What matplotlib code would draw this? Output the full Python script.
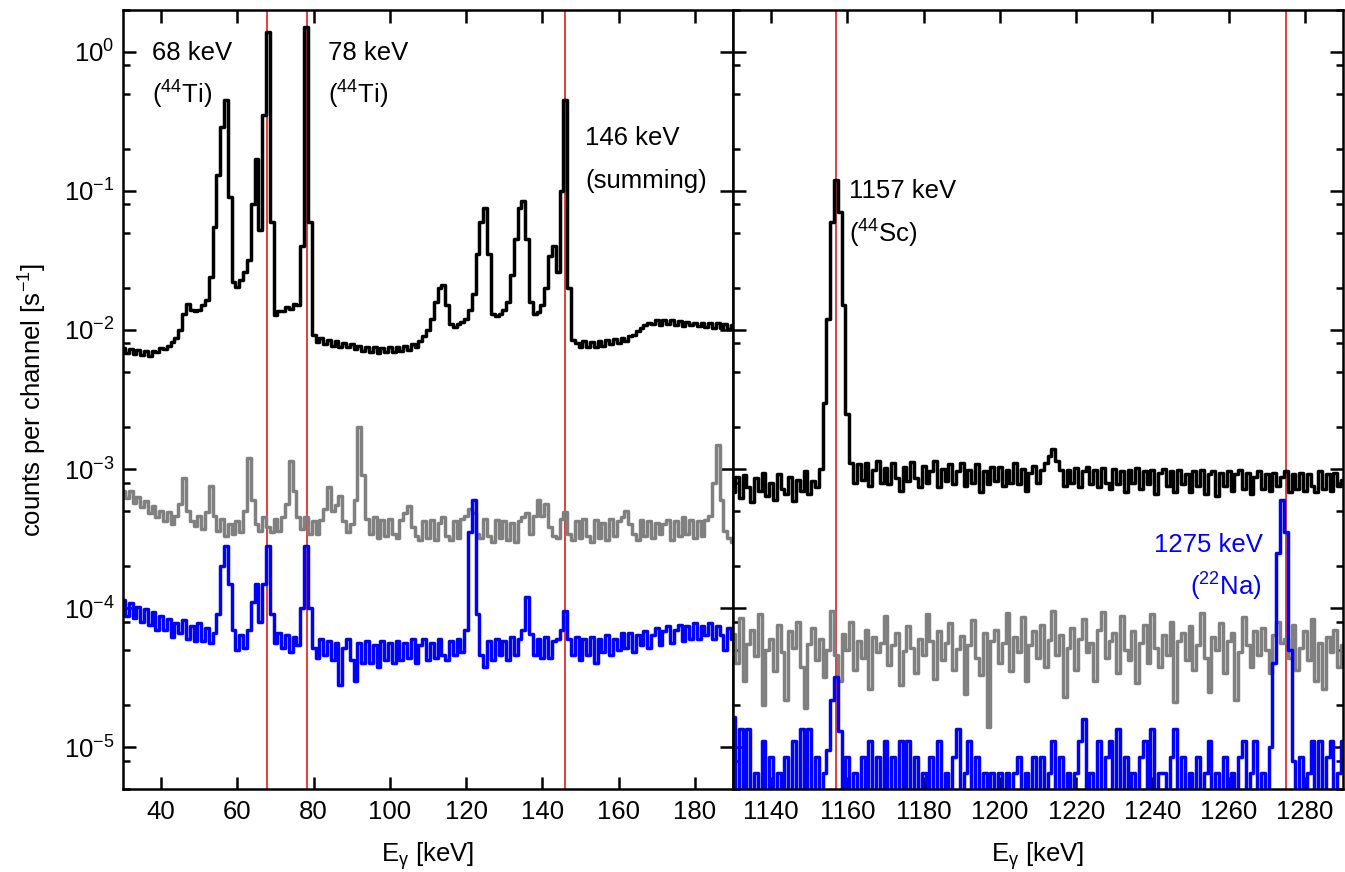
import numpy as np
import matplotlib
matplotlib.use("Agg")
import matplotlib.pyplot as plt
from matplotlib.ticker import LogLocator, MultipleLocator, NullFormatter, NullLocator

plt.rcParams['font.family'] = ['Liberation Sans', 'DejaVu Sans']
plt.rcParams['mathtext.fontset'] = 'custom'
plt.rcParams['mathtext.rm'] = 'Liberation Sans'
plt.rcParams['mathtext.it'] = 'Liberation Sans:italic'
plt.rcParams['mathtext.bf'] = 'Liberation Sans:bold'

# ---------------- data (1 keV channels) ----------------
energy_low = np.arange(30, 191)      # keV
energy_high = np.arange(1130, 1291)  # keV

# counts per channel [1/s], black spectrum, low-energy window
black_low = [
    0.0074, 0.0068, 0.0073, 0.0067, 0.0072, 0.0066, 0.0071, 0.0065, 0.0071, 0.0070,
    0.0074, 0.0073, 0.0077, 0.0082, 0.0088, 0.0100, 0.0130, 0.0155, 0.0140, 0.0138,
    0.0140, 0.0150, 0.0165, 0.0240, 0.0550, 0.1300, 0.2900, 0.4500, 0.0900, 0.0220,
    0.0205, 0.0230, 0.0260, 0.0320, 0.0800, 0.1700, 0.0520, 0.3500, 1.4000, 0.0600,
    0.0128, 0.0138, 0.0136, 0.0146, 0.0142, 0.0154, 0.0150, 0.0400, 1.5000, 0.0600,
    0.0092, 0.0082, 0.0087, 0.0079, 0.0085, 0.0077, 0.0083, 0.0076, 0.0081, 0.0075,
    0.0079, 0.0073, 0.0077, 0.0071, 0.0076, 0.0069, 0.0075, 0.0068, 0.0074, 0.0069,
    0.0075, 0.0070, 0.0076, 0.0071, 0.0077, 0.0072, 0.0079, 0.0076, 0.0083, 0.0090,
    0.0100, 0.0120, 0.0160, 0.0200, 0.0210, 0.0150, 0.0110, 0.0105, 0.0110, 0.0115,
    0.0120, 0.0140, 0.0180, 0.0350, 0.0600, 0.0750, 0.0350, 0.0130, 0.0125, 0.0130,
    0.0140, 0.0160, 0.0250, 0.0450, 0.0750, 0.0850, 0.0450, 0.0160, 0.0130, 0.0135,
    0.0150, 0.0200, 0.0340, 0.0400, 0.0260, 0.1000, 0.4500, 0.0200, 0.0085, 0.0080,
    0.0076, 0.0083, 0.0075, 0.0082, 0.0076, 0.0084, 0.0077, 0.0085, 0.0079, 0.0086,
    0.0080, 0.0088, 0.0083, 0.0090, 0.0092, 0.0098, 0.0104, 0.0108, 0.0112, 0.0110,
    0.0117, 0.0109, 0.0118, 0.0110, 0.0117, 0.0108, 0.0116, 0.0107, 0.0115, 0.0108,
    0.0113, 0.0106, 0.0112, 0.0105, 0.0113, 0.0104, 0.0112, 0.0103, 0.0110, 0.0102,
    0.0108]

# grey spectrum, low-energy window, in units of 1e-4 /s
gray_low_1e4 = [
    7.0, 6.2, 6.9, 5.7, 6.3, 5.3, 5.9, 4.8, 5.4, 4.5,
    5.0, 4.2, 4.9, 4.0, 4.6, 5.6, 8.6, 5.0, 4.2, 3.9,
    4.6, 3.7, 4.9, 7.6, 4.6, 3.6, 4.4, 3.3, 4.0, 3.4,
    4.2, 3.5, 5.0, 12.0, 6.0, 4.0, 3.6, 4.5, 3.8, 3.5,
    4.4, 3.6, 4.5, 5.6, 11.5, 7.0, 4.5, 3.7, 4.5, 3.4,
    4.2, 3.4, 4.3, 5.2, 7.4, 5.0, 5.5, 6.4, 4.2, 3.5,
    4.0, 6.0, 20.0, 9.0, 4.4, 3.4, 4.5, 3.2, 4.3, 3.3,
    4.4, 3.4, 3.2, 4.3, 4.8, 5.4, 3.8, 3.3, 3.1, 4.2,
    3.2, 4.3, 3.1, 4.1, 4.5, 3.3, 3.1, 4.2, 3.2, 4.4,
    4.6, 5.2, 4.8, 3.4, 3.2, 4.4, 3.3, 3.0, 4.3, 3.2,
    4.2, 3.1, 4.1, 3.0, 4.2, 4.5, 4.8, 3.4, 4.6, 6.0,
    4.6, 5.6, 3.8, 3.3, 3.2, 4.4, 4.9, 3.4, 3.1, 4.2,
    3.2, 4.4, 3.3, 3.0, 4.3, 3.2, 4.1, 3.1, 4.4, 3.3,
    4.2, 4.5, 5.0, 4.0, 3.4, 3.1, 4.3, 3.3, 4.2, 3.2,
    4.1, 3.4, 4.0, 4.3, 3.1, 4.2, 3.3, 4.5, 3.4, 4.3,
    3.2, 4.2, 3.3, 4.3, 4.6, 8.0, 15.0, 6.0, 3.6, 3.2,
    3.0]

# blue spectrum, low-energy window, in units of 1e-5 /s
blue_low_1e5 = [
    11.5, 8.8, 10.8, 8.5, 10.2, 8.0, 9.8, 7.6, 9.4, 7.0,
    8.8, 7.0, 8.4, 6.2, 7.8, 6.6, 8.2, 6.0, 7.4, 5.8,
    7.8, 5.8, 7.2, 5.6, 6.6, 9.0, 20.0, 28.0, 15.0, 7.0,
    5.0, 6.4, 5.2, 7.0, 11.0, 15.0, 8.0, 15.0, 28.0, 9.0,
    5.6, 6.6, 5.2, 6.4, 4.8, 6.2, 5.4, 10.0, 28.0, 10.0,
    5.2, 4.4, 6.0, 4.6, 5.8, 4.2, 5.6, 2.8, 5.2, 6.0,
    4.2, 3.0, 5.6, 4.0, 5.8, 4.0, 5.4, 3.8, 5.8, 4.2,
    5.6, 4.0, 5.8, 4.2, 5.6, 4.4, 6.0, 4.0, 5.4, 6.0,
    4.2, 5.6, 4.4, 6.0, 4.6, 4.2, 5.8, 4.6, 6.0, 4.8,
    7.0, 35.0, 60.0, 9.0, 4.6, 3.8, 5.8, 4.2, 6.0, 4.6,
    5.8, 4.2, 6.2, 4.6, 6.0, 7.0, 12.0, 6.5, 4.6, 6.0,
    4.4, 6.2, 4.4, 5.8, 6.0, 7.0, 9.5, 6.0, 4.6, 6.2,
    4.2, 6.0, 4.6, 6.2, 4.0, 6.0, 4.8, 6.4, 4.6, 6.0,
    5.0, 6.6, 5.2, 6.6, 4.8, 6.4, 5.4, 6.8, 5.2, 6.4,
    7.2, 5.4, 6.8, 7.4, 5.6, 7.0, 7.6, 5.8, 7.4, 6.0,
    7.8, 6.0, 7.4, 6.4, 7.8, 6.0, 7.4, 6.4, 5.0, 7.2,
    6.0]

# black spectrum, high-energy window, in units of 1e-4 /s
black_high_1e4 = [
    6.8, 8.8, 6.2, 9.0, 7.4, 5.8, 8.6, 7.0, 9.4, 6.4,
    8.0, 6.0, 9.2, 7.2, 6.6, 8.8, 5.9, 8.4, 7.0, 9.6,
    6.6, 8.2, 7.4,
    10.0, 30.0, 120.0, 600.0, 1200.0, 700.0, 150.0, 25.0, 11.0,
    8.0, 10.8, 8.4, 11.0, 7.6, 9.8, 11.4, 8.0,
    10.2, 7.8, 11.0, 8.6, 7.0, 10.4, 8.2, 11.2, 8.6, 7.4,
    10.6, 8.0, 9.6, 11.4, 7.4, 10.0, 8.2, 10.8, 7.8, 9.6,
    11.0, 7.6, 9.8, 8.0, 10.8, 6.8, 9.6, 7.8, 10.4, 8.2,
    10.4, 7.6, 9.8, 8.0, 11.0, 7.8, 10.0, 7.0, 9.4, 10.6,
    8.0, 9.8, 11.0, 12.5, 14.0, 11.5, 9.8, 7.6, 9.8, 8.0,
    10.2, 7.4, 9.6, 10.4, 7.8, 9.8, 7.4, 10.2, 8.0, 7.2,
    10.0, 7.8, 9.6, 6.8, 9.8, 8.0, 10.2, 7.2, 9.6, 7.8,
    9.8, 6.6, 9.4, 10.0, 7.6, 9.6, 6.8, 9.8, 7.8, 9.2,
    6.8, 9.6, 7.6, 9.8, 6.6, 9.2, 9.6, 6.4, 9.4, 7.6,
    9.6, 7.0, 9.2, 9.8, 7.2, 9.4, 6.6, 8.8, 9.6, 7.2,
    9.2, 7.0, 9.4, 7.6, 8.8, 9.6, 6.8, 9.2, 7.2, 9.4,
    7.0, 9.2, 7.6, 6.8, 9.6, 7.2, 9.2, 7.0, 9.4, 7.6,
    8.4]

# grey spectrum, high-energy window, in units of 1e-5 /s
gray_high_1e5 = [
    6.5, 4.0, 8.5, 3.0, 5.5, 7.0, 4.5, 9.0, 2.0, 5.0,
    6.0, 3.5, 7.5, 4.8, 2.2, 6.8, 5.2, 8.0, 3.8, 1.9,
    5.5, 7.2, 4.2, 6.0, 3.2, 5.0, 9.5, 4.6, 3.0, 6.5,
    5.0, 8.0, 3.6, 5.8, 4.4, 7.0, 2.6, 6.2, 4.8, 5.6,
    8.8, 3.9, 5.4, 6.6, 2.8, 4.9, 7.4, 5.2, 3.4, 6.0,
    4.6, 9.0, 5.8, 3.1, 6.8, 4.2, 5.6, 7.8, 3.6, 5.1,
    6.3, 2.4, 5.4, 8.2, 4.4, 3.3, 6.6, 1.4, 5.8, 7.0,
    4.0, 5.6, 9.2, 3.5, 6.2, 4.8, 8.6, 3.0, 5.4, 6.8,
    4.4, 7.6, 3.8, 5.9, 9.6, 4.6, 6.4, 2.3, 5.2, 7.2,
    3.6, 6.0, 8.4, 4.8, 5.6, 3.0, 7.0, 9.4, 4.4, 5.8,
    6.6, 3.4, 8.8, 5.0, 4.2, 6.8, 2.9, 5.6, 7.6, 4.0,
    9.0, 5.2, 3.8, 6.4, 4.6, 8.0, 2.1, 5.8, 6.6, 4.2,
    7.4, 3.6, 5.4, 9.2, 4.4, 2.5, 6.2, 5.0, 7.8, 3.4,
    5.8, 6.6, 2.2, 4.8, 8.6, 5.4, 3.8, 6.8, 4.6, 7.2,
    5.0, 3.4, 6.4, 8.0, 5.6, 6.0, 4.4, 7.6, 3.6, 5.2,
    6.8, 4.2, 8.4, 3.0, 5.6, 2.6, 6.2, 4.8, 7.0, 3.8,
    5.4]

# blue spectrum, high-energy window, in units of 1e-6 /s (0 = empty channel)
blue_high_1e6 = [
    16.5, 0, 13.5, 0, 13.5, 0, 6.5, 0, 11, 0,
    8.5, 0, 6.5, 0, 8.5, 0, 11, 0, 13.5, 0,
    13.5, 0, 8.5, 0, 6.5, 9.5, 22, 32, 13, 0,
    8.5, 0, 6.5, 0, 8.5, 0, 11, 0, 8.5, 0,
    11, 0, 8.5, 0, 11, 0, 11, 0, 8.5, 0,
    6.5, 0, 8.5, 0, 11, 0, 6.5, 0, 8.5, 13.5,
    0, 6.5, 11, 0, 8.5, 0, 6.5, 0, 6.5, 0,
    6.5, 0, 6.5, 0, 6.5, 8.5, 0, 6.5, 0, 8.5,
    0, 8.5, 0, 6.5, 11, 0, 8.5, 0, 6.5, 0,
    6.5, 11, 16, 0, 6.5, 0, 11, 0, 8.5, 11,
    0, 13.5, 0, 8.5, 0, 6.5, 0, 8.5, 11, 0,
    13.5, 0, 6.5, 6.5, 0, 8.5, 13.5, 0, 8.5, 0,
    6.5, 0, 8.5, 0, 6.5, 11, 0, 6.5, 0, 8.5,
    0, 6.5, 0, 8.5, 11, 0, 6.5, 11, 0, 6.5,
    0, 10, 40, 250, 600, 350, 50, 8, 0, 8.5,
    0, 6.5, 11, 0, 11, 0, 8.5, 11, 0, 6.5,
    11]

lines_low = [67.9, 78.3, 146.0]
lines_high = [1157.0, 1275.0]

# ---------------- figure ----------------
W, H = 1345, 872
fig = plt.figure(figsize=(W / 100, H / 100), dpi=100)
ax1 = fig.add_axes([123 / W, 83 / H, 610 / W, 779 / H])
ax2 = fig.add_axes([733 / W, 83 / H, 610 / W, 779 / H], sharey=ax1)

RED = '#E0302D'
BLUE = '#0000FF'
GRAY = '#808080'
LW = 2.5
FS = 18.5

series_low = [(np.array(black_low), 'black'),
              (np.array(gray_low_1e4) * 1e-4, GRAY),
              (np.array(blue_low_1e5) * 1e-5, BLUE)]
series_high = [(np.array(black_high_1e4) * 1e-4, 'black'),
               (np.array(gray_high_1e5) * 1e-5, GRAY),
               (np.array(blue_high_1e6) * 1e-6, BLUE)]

for ax, en, series, vl in [(ax1, energy_low, series_low, lines_low),
                           (ax2, energy_high, series_high, lines_high)]:
    ax.set_yscale('log', nonpositive='clip')
    for x in vl:
        ax.axvline(x, color=RED, lw=1.3, zorder=1)
    for vals, col in series:
        ax.plot(en, vals, drawstyle='steps-mid', color=col, lw=LW, zorder=2)
    for s in ax.spines.values():
        s.set_linewidth(1.8)
        s.set_zorder(5)
    ax.xaxis.set_major_locator(MultipleLocator(20))
    ax.xaxis.set_minor_locator(NullLocator())
    ax.tick_params(axis='x', which='major', direction='in', top=True, bottom=True,
                   length=9, width=1.8, labelsize=FS, pad=8)

ax1.set_xlim(30, 190)
ax2.set_xlim(1130, 1290)
ax1.set_ylim(5e-6, 2)

ax1.yaxis.set_major_locator(LogLocator(base=10, numticks=20))
ax1.yaxis.set_minor_locator(LogLocator(base=10, subs=[2, 5, 8], numticks=20))
ax1.yaxis.set_minor_formatter(NullFormatter())

ax1.tick_params(axis='y', which='major', direction='in', left=True, right=True,
                length=9.5, width=1.8, labelsize=FS, pad=6)
ax1.tick_params(axis='y', which='minor', direction='in', left=True, right=False,
                length=5, width=1.8)
ax2.tick_params(axis='y', which='major', direction='in', left=True, right=True,
                length=9.5, width=1.8, labelleft=False)
ax2.tick_params(axis='y', which='minor', direction='in', left=True, right=True,
                length=5, width=1.8, labelleft=False)

# annotations
ax1.text(37.7, 0.872, '68 keV', fontsize=FS, va='baseline')
ax1.text(37.7, 0.428, '($^{44}$Ti)', fontsize=FS, va='baseline')
ax1.text(83.8, 0.872, '78 keV', fontsize=FS, va='baseline')
ax1.text(83.8, 0.428, '($^{44}$Ti)', fontsize=FS, va='baseline')
ax1.text(151.2, 0.213, '146 keV', fontsize=FS, va='baseline')
ax1.text(151.2, 0.105, '(summing)', fontsize=FS, va='baseline')
ax2.text(1160.5, 0.0886, '1157 keV', fontsize=FS, va='baseline')
ax2.text(1160.5, 0.0428, '($^{44}$Sc)', fontsize=FS, va='baseline')
ax2.text(1269.0, 2.52e-4, '1275 keV', fontsize=FS, va='baseline', ha='right', color=BLUE)
ax2.text(1250.0, 1.23e-4, '($^{22}$Na)', fontsize=FS, va='baseline', color=BLUE)

fig.text(33 / W, 1 - 400 / H, 'counts per channel [s$^{-1}$]', rotation=90,
         ha='center', va='center', fontsize=FS)
fig.text(428 / W, 1 - 862 / H, r'E$_{\mathrm{\gamma}}$ [keV]', ha='center',
         va='baseline', fontsize=FS)
fig.text(1038 / W, 1 - 862 / H, r'E$_{\mathrm{\gamma}}$ [keV]', ha='center',
         va='baseline', fontsize=FS)

fig.savefig('out.png', dpi=100)
